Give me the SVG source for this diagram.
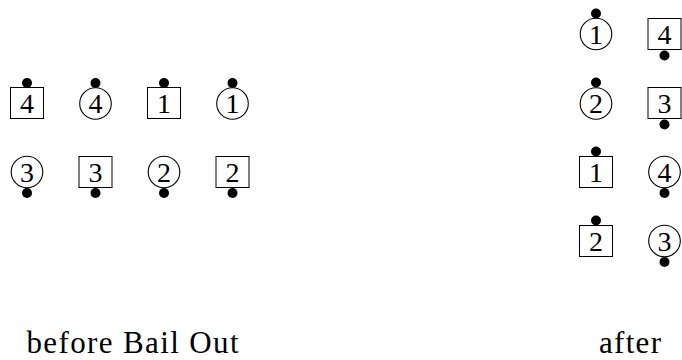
<svg xmlns="http://www.w3.org/2000/svg" width="682" height="360" viewBox="0 0 682 360">
<style>
  .bx { fill: #fff; stroke: #000; stroke-width: 1; }
  .cr { fill: #fff; stroke: #000; stroke-width: 1.1; }
  .dt { fill: #000; }
  .lb { font-family: "Liberation Serif", "DejaVu Serif", serif; font-size: 28px; text-anchor: middle; fill: #000; }
  .cap { font-family: "Liberation Serif", "DejaVu Serif", serif; font-size: 31px; fill: #000; }
</style>
<rect width="682" height="360" fill="#fff"/>

<!-- before: row 1 -->
<g id="L-box4"><rect class="bx" x="10.5" y="87.5" width="33" height="31"/><text class="lb" x="27" y="113">4</text><circle class="dt" cx="27" cy="83" r="5"/></g>
<g id="L-circ4"><circle class="cr" cx="95.5" cy="103.5" r="15.8"/><text class="lb" x="95.5" y="113">4</text><circle class="dt" cx="95.5" cy="83" r="5"/></g>
<g id="L-box1"><rect class="bx" x="147.5" y="87.5" width="33" height="31"/><text class="lb" x="164" y="113">1</text><circle class="dt" cx="164" cy="83" r="5"/></g>
<g id="L-circ1"><circle class="cr" cx="232.5" cy="103.5" r="15.8"/><text class="lb" x="232.5" y="113">1</text><circle class="dt" cx="232.5" cy="83" r="5"/></g>

<!-- before: row 2 -->
<g id="L-circ3"><circle class="cr" cx="27" cy="172" r="15.8"/><text class="lb" x="27" y="181.5">3</text><circle class="dt" cx="27" cy="193" r="5"/></g>
<g id="L-box3"><rect class="bx" x="79" y="156.5" width="33" height="31"/><text class="lb" x="95.5" y="181.5">3</text><circle class="dt" cx="95.5" cy="193" r="5"/></g>
<g id="L-circ2"><circle class="cr" cx="164" cy="172" r="15.8"/><text class="lb" x="164" y="181.5">2</text><circle class="dt" cx="164" cy="193" r="5"/></g>
<g id="L-box2"><rect class="bx" x="216" y="156.5" width="33" height="31"/><text class="lb" x="232.5" y="181.5">2</text><circle class="dt" cx="232.5" cy="193" r="5"/></g>

<!-- after -->
<g id="R-circ1"><circle class="cr" cx="596" cy="34" r="15.8"/><text class="lb" x="596" y="43.5">1</text><circle class="dt" cx="596" cy="13.5" r="5"/></g>
<g id="R-box4"><rect class="bx" x="648" y="18.5" width="33" height="31"/><text class="lb" x="664.5" y="43.5">4</text><circle class="dt" cx="664.5" cy="55.5" r="5"/></g>

<g id="R-circ2"><circle class="cr" cx="596" cy="103.5" r="15.8"/><text class="lb" x="596" y="113">2</text><circle class="dt" cx="596" cy="82.5" r="5"/></g>
<g id="R-box3"><rect class="bx" x="648" y="87.5" width="33" height="31"/><text class="lb" x="664.5" y="113">3</text><circle class="dt" cx="664.5" cy="124.5" r="5"/></g>

<g id="R-box1"><rect class="bx" x="579.5" y="156.5" width="33" height="31"/><text class="lb" x="596" y="181.5">1</text><circle class="dt" cx="596" cy="151.5" r="5"/></g>
<g id="R-circ4"><circle class="cr" cx="664.5" cy="172" r="15.8"/><text class="lb" x="664.5" y="181.5">4</text><circle class="dt" cx="664.5" cy="193" r="5"/></g>

<g id="R-box2"><rect class="bx" x="579.5" y="225.5" width="33" height="31"/><text class="lb" x="596" y="250.5">2</text><circle class="dt" cx="596" cy="220.5" r="5"/></g>
<g id="R-circ3"><circle class="cr" cx="664.5" cy="241" r="15.8"/><text class="lb" x="664.5" y="250.5">3</text><circle class="dt" cx="664.5" cy="262" r="5"/></g>

<g id="captions">
  <text class="cap" x="26.5" y="353" textLength="212" lengthAdjust="spacing">before Bail Out</text>
  <text class="cap" x="599" y="353" textLength="62" lengthAdjust="spacing">after</text>
</g>
</svg>
